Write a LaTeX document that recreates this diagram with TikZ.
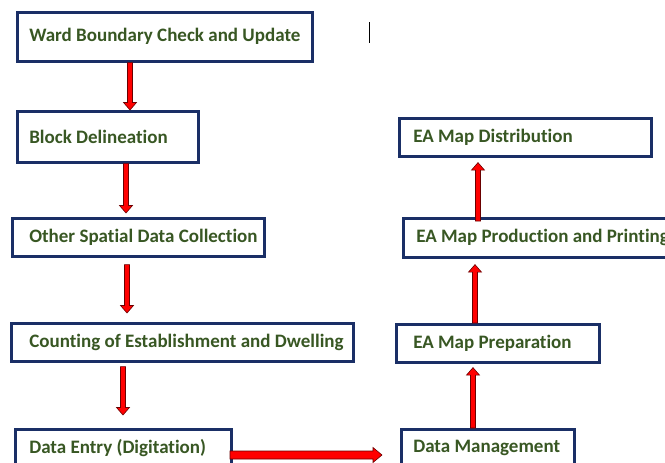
\documentclass[tikz,border=0pt]{standalone}
\usepackage{fontspec}
\setmainfont{Carlito}[Ligatures=NoCommon]
\usetikzlibrary{calc}
\definecolor{navy}{HTML}{1A2F66}
\definecolor{txtgreen}{HTML}{385723}
\definecolor{arrowred}{HTML}{FF0000}
\definecolor{arrowline}{HTML}{6A0000}
\newcommand{\lbox}[2]{\makebox[#1][l]{#2}}
\tikzset{
  box/.style={draw=navy, line width=2.6pt, fill=white, anchor=north west,
    font=\bfseries\fontsize{19}{22}\selectfont, text=txtgreen,
    inner ysep=0pt},
  barrow/.style n args={3}{fill=arrowred, draw=arrowline, line width=0.6pt,
    to path={($(\tikztostart)!#1!90:(\tikztotarget)$)
      -- ($(\tikztotarget)!#3!(\tikztostart)!#1!90:(\tikztotarget)$)
      -- ($(\tikztotarget)!#3!(\tikztostart)!#2!90:(\tikztotarget)$)
      -- (\tikztotarget)
      -- ($(\tikztotarget)!#3!(\tikztostart)!#2!-90:(\tikztotarget)$)
      -- ($(\tikztotarget)!#3!(\tikztostart)!#1!-90:(\tikztotarget)$)
      -- ($(\tikztostart)!#1!-90:(\tikztotarget)$) -- cycle}},
  varrow/.style={barrow={2.5pt}{6.5pt}{7.5pt}},
  harrow/.style={barrow={4pt}{7.5pt}{9pt}}
}
\begin{document}
\begin{tikzpicture}[x=1pt,y=-1pt]
\fill[white] (0,0) rectangle (665,463);
\useasboundingbox (0,0) rectangle (665,463);
% left column
\node[box, minimum height=49pt, inner xsep=12pt] (ward) at (16,11) {\lbox{271pt}{Ward Boundary Check and Update}};
\node[box, minimum height=51pt, inner xsep=12pt] (block) at (16,110) {\lbox{157pt}{Block Delineation}};
\node[box, minimum height=38pt, inner xsep=17pt] (other) at (11,217) {\lbox{218pt}{Other Spatial Data Collection}};
\node[box, minimum height=38pt, inner xsep=18pt] (count) at (10,322) {\lbox{306pt}{Counting of Establishment and Dwelling}};
\node[box, minimum height=38pt, inner xsep=14pt] (entry) at (14,428) {\lbox{188pt}{Data Entry (Digitation)}};
% right column
\node[box, minimum height=38pt, inner xsep=12pt] (mgmt) at (400,428) {\lbox{149pt}{Data Management}};
\node[box, minimum height=38pt, inner xsep=17pt] (prep) at (395,323) {\lbox{169pt}{EA Map Preparation}};
\node[box, minimum height=39pt, inner xsep=13pt] (prod) at (402,217) {\lbox{274pt}{EA Map Production and Printing}};
\node[box, minimum height=38pt, inner xsep=14pt] (dist) at (398,117) {\lbox{224pt}{EA Map Distribution}};
% arrow end points
\coordinate (x1) at (130,0);
\coordinate (x2) at (126,0);
\coordinate (x3) at (127,0);
\coordinate (x4) at (123,0);
\coordinate (x6) at (473,0);
\coordinate (x7) at (475,0);
\coordinate (x8) at (478,0);
\coordinate (a1s) at (ward.south -| x1);
\coordinate (a1e) at (block.north -| x1);
\coordinate (a2s) at (block.south -| x2);
\coordinate (a2e) at ([yshift=4pt]other.north -| x2);
\coordinate (a3s) at ([yshift=-7pt]other.south -| x3);
\coordinate (a3e) at ([yshift=9pt]count.north -| x3);
\coordinate (a4s) at ([yshift=-4pt]count.south -| x4);
\coordinate (a4e) at ([yshift=13pt]entry.north -| x4);
\coordinate (a5s) at (230,455);
\coordinate (a5e) at (382,455);
\coordinate (a6s) at (mgmt.north -| x6);
\coordinate (a6e) at ([yshift=-4pt]prep.south -| x6);
\coordinate (a7s) at (prep.north -| x7);
\coordinate (a7e) at ([yshift=-6pt]prod.south -| x7);
\coordinate (a8s) at ([yshift=-4pt]prod.north -| x8);
\coordinate (a8e) at ([yshift=-5pt]dist.south -| x8);
\draw[varrow] (a1s) to (a1e);
\draw[varrow] (a2s) to (a2e);
\draw[varrow] (a3s) to (a3e);
\draw[varrow] (a4s) to (a4e);
\draw[harrow] (a5s) to (a5e);
\draw[varrow] (a6s) to (a6e);
\draw[varrow] (a7s) to (a7e);
\draw[varrow] (a8s) to (a8e);
% text cursor
\coordinate (cur1) at (369,22);
\coordinate (cur2) at (369,43);
\draw[line width=1pt] (cur1) -- (cur2);
\end{tikzpicture}
\end{document}
